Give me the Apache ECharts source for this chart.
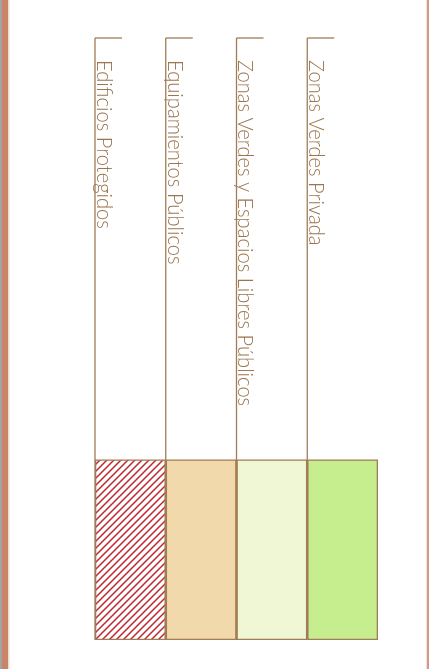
<!DOCTYPE html>
<html>
<head>
<meta charset="utf-8">
<style>
  html, body { margin: 0; padding: 0; background: #ffffff; }
  #chart { width: 429px; height: 669px; }
</style>
<script src="https://cdn.jsdelivr.net/npm/echarts@6/dist/echarts.min.js"></script>
</head>
<body>
<div id="chart"></div>
<script>
// ---- data ----
var categories = ['Edificios Protegidos', 'Equipamientos Públicos', 'Zonas Verdes y Espacios Libres Públicos', 'Zonas Verdes Privada'];
var boxValues = [3, 3, 3, 3];
var stemValues = [10, 10, 10, 10];
var boxColors = ['hatch', '#f1d9ab', '#f0f7d4', '#c6ee8e'];

// ---- hatch pattern ----
function makeHatch() {
  var s = 7;
  var c = document.createElement('canvas');
  c.width = s; c.height = s;
  var ctx = c.getContext('2d');
  ctx.fillStyle = '#ffffff';
  ctx.fillRect(0, 0, s, s);
  ctx.strokeStyle = '#c0262f';
  ctx.lineWidth = 1.5;
  ctx.beginPath();
  ctx.moveTo(0, s); ctx.lineTo(s, 0);
  ctx.moveTo(-1, 1); ctx.lineTo(1, -1);
  ctx.moveTo(s - 1, s + 1); ctx.lineTo(s + 1, s - 1);
  ctx.stroke();
  return { image: c, repeat: 'repeat' };
}
var hatch = makeHatch();

var brown = '#a07c57';
var chart = echarts.init(document.getElementById('chart'), null, { renderer: 'canvas' });

chart.setOption({
  animation: false,
  backgroundColor: '#ffffff',
  grid: { left: 95, right: 51, top: 38, bottom: 29 },
  xAxis: { type: 'category', data: categories, show: false, boundaryGap: true },
  yAxis: { type: 'value', min: 0, max: 10, show: false },
  graphic: [
    { type: 'rect', shape: { x: 0, y: 0, width: 2, height: 669 }, style: { fill: '#a3a3a3' } },
    { type: 'rect', shape: { x: 2, y: 0, width: 6, height: 669 }, style: { fill: '#cc8468' } },
    { type: 'rect', shape: { x: 8, y: 0, width: 1.5, height: 669 }, style: { fill: '#eedccf' } },
    { type: 'rect', shape: { x: 426, y: 0, width: 1, height: 669 }, style: { fill: '#e9e2de' } },
    { type: 'rect', shape: { x: 427, y: 0, width: 2, height: 669 }, style: { fill: '#d49a85' } }
  ],
  series: [
    {
      type: 'bar',
      barCategoryGap: '0%',
      z: 2,
      data: boxValues.map(function (v, i) {
        return {
          value: v,
          itemStyle: {
            color: boxColors[i] === 'hatch' ? hatch : boxColors[i],
            borderColor: brown,
            borderWidth: 1.3
          }
        };
      })
    },
    {
      type: 'custom',
      z: 3,
      data: stemValues.map(function (v, i) { return [i, v]; }),
      renderItem: function (params, api) {
        var idx = api.value(0);
        var top = api.coord([idx, api.value(1)]);
        var bottom = api.coord([idx, 0]);
        var bw = api.size([1, 0])[0];
        var lx = top[0] - bw / 2;
        return {
          type: 'group',
          children: [
            { type: 'line', shape: { x1: lx, y1: top[1], x2: lx, y2: bottom[1] }, style: { stroke: brown, lineWidth: 1.3 } },
            { type: 'line', shape: { x1: lx, y1: top[1], x2: lx + 27, y2: top[1] }, style: { stroke: brown, lineWidth: 1.3 } },
            {
              type: 'text',
              x: lx - 2,
              y: top[1] + 22,
              rotation: -Math.PI / 2,
              scaleX: 0.915,
              style: {
                text: categories[idx],
                fontFamily: 'Lato',
                fontWeight: 300,
                fontSize: 22,
                fill: '#9a7550',
                textAlign: 'left',
                textVerticalAlign: 'bottom'
              }
            }
          ]
        };
      }
    }
  ]
});
</script>
</body>
</html>
